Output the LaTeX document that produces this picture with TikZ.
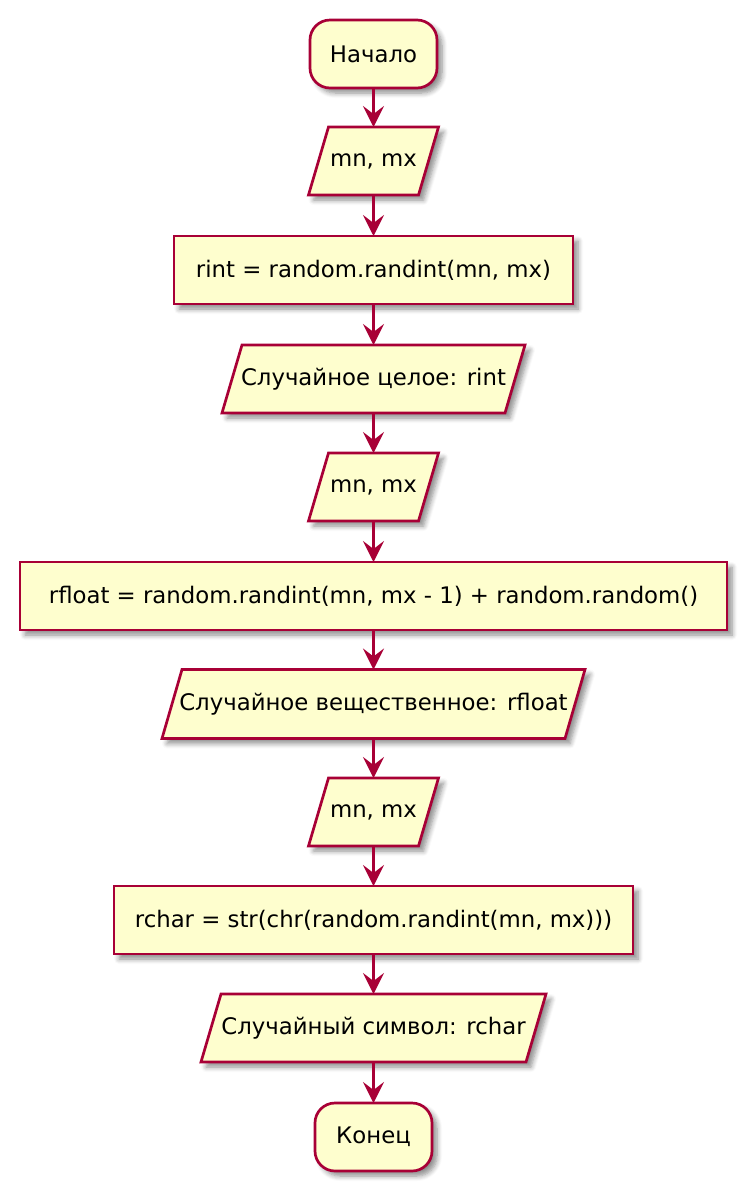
\documentclass[tikz,border=0pt]{standalone}
\usepackage{fontspec}
\setmainfont{DejaVu Sans}
\usetikzlibrary{shadows.blur,arrows.meta,calc,backgrounds}
\definecolor{boxfill}{HTML}{FEFECE}
\definecolor{boxline}{HTML}{A80036}
\tikzset{
  base/.style={font=\fontsize{11.4}{14}\selectfont, inner sep=0pt, outer sep=0pt, align=center},
  shaded/.style={fill=boxfill, draw=boxline, line width=1.35pt,
    blur shadow={shadow xshift=2.5pt, shadow yshift=-2.5pt, shadow blur radius=2.5pt, shadow blur steps=6, shadow opacity=45}},
  termbox/.style={base, shaded, rounded corners=10pt, minimum height=34pt},
  actbox/.style={base, shaded, minimum height=34pt},
  iobox/.style={base, minimum height=34pt},
  pshape/.style={shaded},
  flow/.style={draw=boxline, line width=1.35pt, -{Stealth[length=10.5pt, width=10.5pt, inset=4pt]}}
}
\newcommand{\paral}[1]{%
  \path[pshape] ($(#1.north west)+(10,0)$) -- ($(#1.north east)+(10,0)$) --
    ($(#1.south east)+(-10,0)$) -- ($(#1.south west)+(-10,0)$) -- cycle;}
\begin{document}
\begin{tikzpicture}[x=0.5pt,y=-0.5pt]
\useasboundingbox (0,0) rectangle (746,1190);
\node[termbox, minimum width=63.5pt] (n1) at (373.5,54) {Начало};
\node[iobox, minimum width=55pt] (n2) at (373.5,161) {mn, mx};
\node[actbox, minimum width=199.5pt] (n3) at (373.5,270) {rint = random.randint(mn, mx)};
\node[iobox, minimum width=141.5pt] (n4) at (373.5,379) {Случайное целое: rint};
\node[iobox, minimum width=55pt] (n5) at (373.5,487) {mn, mx};
\node[actbox, minimum width=353.5pt] (n6) at (373.5,596) {rfloat = random.randint(mn, mx - 1) + random.random()};
\node[iobox, minimum width=201.5pt, minimum height=34.5pt] (n7) at (373.5,704) {Случайное вещественное: rfloat};
\node[iobox, minimum width=55pt] (n8) at (373.5,812) {mn, mx};
\node[actbox, minimum width=259.5pt] (n9) at (373.5,920) {rchar = str(chr(random.randint(mn, mx)))};
\node[iobox, minimum width=162.5pt] (n10) at (373.5,1028) {Случайный символ: rchar};
\node[termbox, minimum width=58.5pt] (n11) at (373.5,1137) {Конец};
\begin{scope}[on background layer]
\paral{n2}
\paral{n4}
\paral{n5}
\paral{n7}
\paral{n8}
\paral{n10}
\end{scope}
\foreach \a/\b in {n1/n2,n2/n3,n3/n4,n4/n5,n5/n6,n6/n7,n7/n8,n8/n9,n9/n10,n10/n11}
  \draw[flow] (\a.south) -- (\b.north);
\end{tikzpicture}
\end{document}
